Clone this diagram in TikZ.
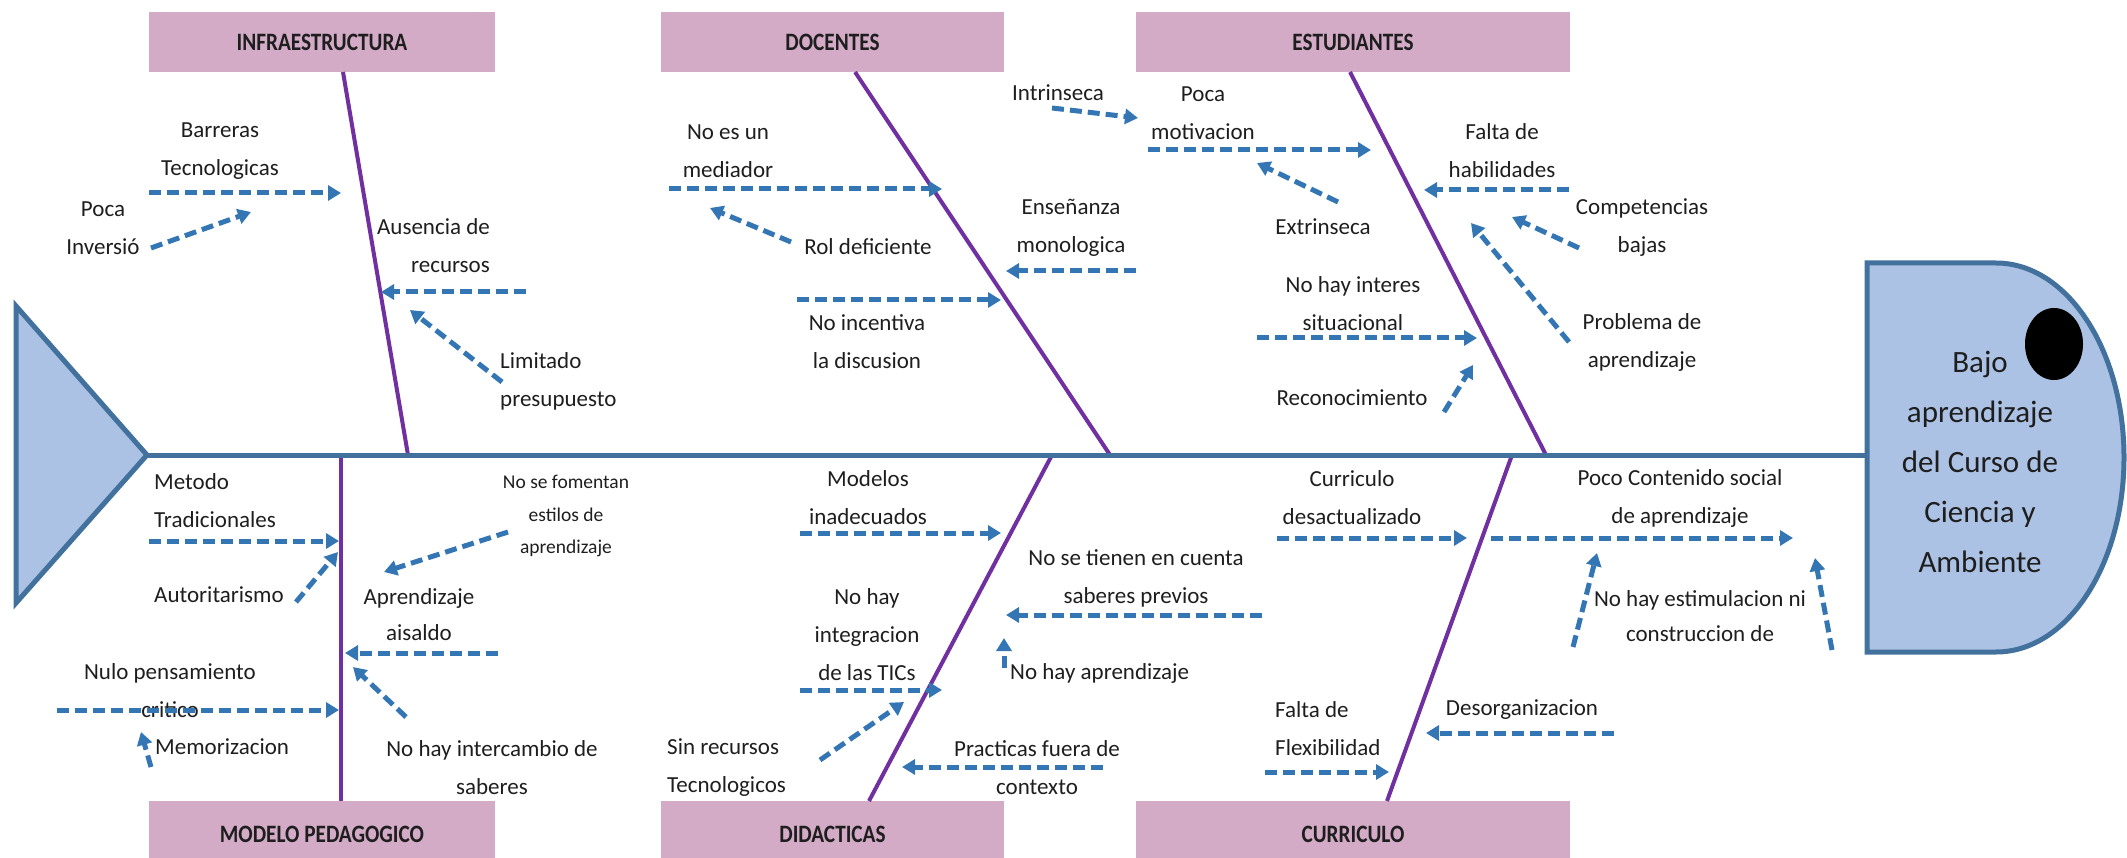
\documentclass[tikz,border=0pt]{standalone}
\usepackage{fontspec}
\setmainfont{Carlito}
\newfontfamily\boxfont{Carlito}[FakeStretch=0.85]
\usetikzlibrary{arrows.meta}
\definecolor{bonec}{RGB}{112,48,160}
\definecolor{arrc}{RGB}{52,118,180}
\definecolor{axisc}{RGB}{65,113,156}
\definecolor{fishfill}{RGB}{172,194,228}
\definecolor{boxc}{RGB}{211,171,198}
\definecolor{textc}{RGB}{30,30,30}
\begin{document}
\begin{tikzpicture}[x=1pt,y=-1pt,
  txt/.style={font=\fontsize{23}{38}\selectfont, text=textc, inner sep=0pt, align=center},
  smalltxt/.style={font=\fontsize{19.5}{32.5}\selectfont, text=textc, inner sep=0pt, align=center},
  headtxt/.style={font=\fontsize{31}{50}\selectfont, text=textc, inner sep=0pt, align=center},
  cat/.style={fill=boxc, draw=none, font=\boxfont\bfseries\fontsize{25}{30}\selectfont, text=textc, inner sep=0pt},
  bone/.style={draw=bonec, line width=4pt},
  axisline/.style={draw=axisc, line width=5pt},
  arr/.style={draw=arrc, line width=5pt, dash pattern=on 12pt off 6pt, -{Triangle[length=13pt,width=15pt]}},
  fish/.style={draw=axisc, fill=fishfill, line width=5pt, line join=miter},
]
\useasboundingbox (0,0) rectangle (2127,858);

% tail and head
\draw[fish] (16,306) -- (147,455) -- (16,603) -- cycle;
\draw[fish] (1867,263) -- (1996,263) .. controls (2067.2,263) and (2124,350.1) .. (2124,457.5)
  .. controls (2124,564.9) and (2067.2,652) .. (1996,652) -- (1867,652) -- cycle;
\fill[black] (2054,344) ellipse[x radius=29pt, y radius=36pt];
\node[headtxt] (effect) at (1980,462) {Bajo\\aprendizaje\\del Curso de\\Ciencia y\\Ambiente};

% spine
\coordinate (tailtip) at (147,455);
\coordinate (headL) at (1867,455);

% category boxes
\node[cat, minimum width=346pt, minimum height=60pt] (infra) at (322,42) {INFRAESTRUCTURA};
\node[cat, minimum width=343pt, minimum height=60pt] (doc) at (832.5,42) {DOCENTES};
\node[cat, minimum width=434pt, minimum height=60pt] (est) at (1353,42) {ESTUDIANTES};
\node[cat, minimum width=346pt, minimum height=66pt] (mod) at (322,834) {MODELO PEDAGOGICO};
\node[cat, minimum width=343pt, minimum height=66pt] (did) at (832.5,834) {DIDACTICAS};
\node[cat, minimum width=434pt, minimum height=66pt] (cur) at (1353,834) {CURRICULO};

% bones
\coordinate (infraT) at (343,72);  \coordinate (infraB) at (408,455);
\coordinate (docT) at (855,72);    \coordinate (docB) at (1110,455);
\coordinate (estT) at (1350,72);   \coordinate (estB) at (1546,455);
\coordinate (modT) at (341,455);   \coordinate (modB) at (341,801);
\coordinate (didT) at (1052,455);  \coordinate (didB) at (869,801);
\coordinate (curT) at (1512,455);  \coordinate (curB) at (1387,801);
\draw[bone] (infraT) -- (infraB);
\draw[bone] (docT) -- (docB);
\draw[bone] (estT) -- (estB);
\draw[bone] (modT) -- (modB);
\draw[bone] (didT) -- (didB);
\draw[bone] (curT) -- (curB);
\draw[axisline] (tailtip) -- (headL);

% texts
\node[txt] (t1) at (220,151) {Barreras\\Tecnologicas};
\node[txt] (t2) at (103,228) {Poca\\Inversió};
\node[txt, anchor=east, align=right] (t3) at (490,246) {Ausencia de\\recursos};
\node[txt, anchor=west, align=left] (t4) at (500,381) {Limitado\\presupuesto};
\node[txt] (t5) at (728,151) {No es un\\mediador};
\node[txt] (t6) at (868,247) {Rol deficiente};
\node[txt] (t7) at (1071,228) {Enseñanza\\monologica};
\node[txt] (t8) at (867,342) {No incentiva\\la discusion};
\node[txt] (t9) at (1058,93) {Intrinseca};
\node[txt] (t10) at (1203,113) {Poca\\motivacion};
\node[txt] (t11) at (1323,227) {Extrinseca};
\node[txt] (t12) at (1502,151) {Falta de\\habilidades};
\node[txt] (t13) at (1642,228) {Competencias\\bajas};
\node[txt] (t14) at (1353,304) {No hay interes\\situacional};
\node[txt] (t15) at (1642,342) {Problema de\\aprendizaje};
\node[txt] (t16) at (1352,398) {Reconocimiento};
\node[txt, anchor=west, align=left] (t17) at (154,501) {Metodo\\Tradicionales};
\node[txt, anchor=west] (t18) at (154,595) {Autoritarismo};
\node[smalltxt] (t19) at (566,516) {No se fomentan\\estilos de\\aprendizaje};
\node[txt, font=\fontsize{23}{36}\selectfont] (t20) at (419,615) {Aprendizaje\\aisaldo};
\node[txt] (t21) at (492,768) {No hay intercambio de\\saberes};
\node[txt] (t22) at (170,691) {Nulo pensamiento\\critico};
\node[txt, anchor=west] (t23) at (155,747) {Memorizacion};
\node[txt] (t24) at (868,498) {Modelos\\inadecuados};
\node[txt] (t25) at (1136,578) {No se tienen en cuenta\\saberes previos};
\node[txt, anchor=west] (t26) at (1010,673) {No hay aprendizaje};
\node[txt] (t27) at (867,635) {No hay\\integracion\\de las TICs};
\node[txt, anchor=west, align=left] (t28) at (667,768) {Sin recursos\\Tecnologicos};
\node[txt] (t29) at (1037,768) {Practicas fuera de\\contexto};
\node[txt] (t30) at (1352,498) {Curriculo\\desactualizado};
\node[txt] (t31) at (1680,498) {Poco Contenido social\\de aprendizaje};
\node[txt, font=\fontsize{23}{35}\selectfont] (t32) at (1700,616) {No hay estimulacion ni\\construccion de};
\node[txt, anchor=west, align=left] (t33) at (1275,729) {Falta de\\Flexibilidad};
\node[txt] (t34) at (1522,710) {Desorganizacion};

% dashed arrows
\foreach \n/\xa/\ya/\xb/\yb in {
 1/149/193/341/193, 2/151/248/251/212, 3/526/292/381/292, 4/502/382/410/310,
 5/669/189/942/189, 6/791/242/710/208, 7/1136/271/1006/271, 8/797/300/1001/300,
 9/1052/108/1138/118, 10/1148/150/1371/150, 11/1338/202/1257/163, 12/1569/190/1424/190,
 13/1579/248/1512/217, 14/1569/342/1471/223, 15/1257/338/1477/338, 16/1444/412/1473/365,
 17/149/541/339/541, 18/296/602/338/552, 19/508/532/384/572, 20/498/653/345/653,
 21/406/717/353/667, 22/57/710/339/710, 23/151/767/141/732,
 24/800/533/1001/533, 25/1262/615/1006/615, 26/1004/668/1004/638, 27/800/690/942/690,
 28/820/760/904/702, 29/1103/767/902/767,
 30/1277/538/1467/538, 31/1491/538/1793/538, 32/1573/647/1597/553, 33/1832/650/1815/558,
 34/1265/772/1389/772, 35/1614/733/1426/733}
{
  \coordinate (s\n) at (\xa,\ya);
  \coordinate (e\n) at (\xb,\yb);
  \draw[arr] (s\n) -- (e\n);
}
\end{tikzpicture}
\end{document}
